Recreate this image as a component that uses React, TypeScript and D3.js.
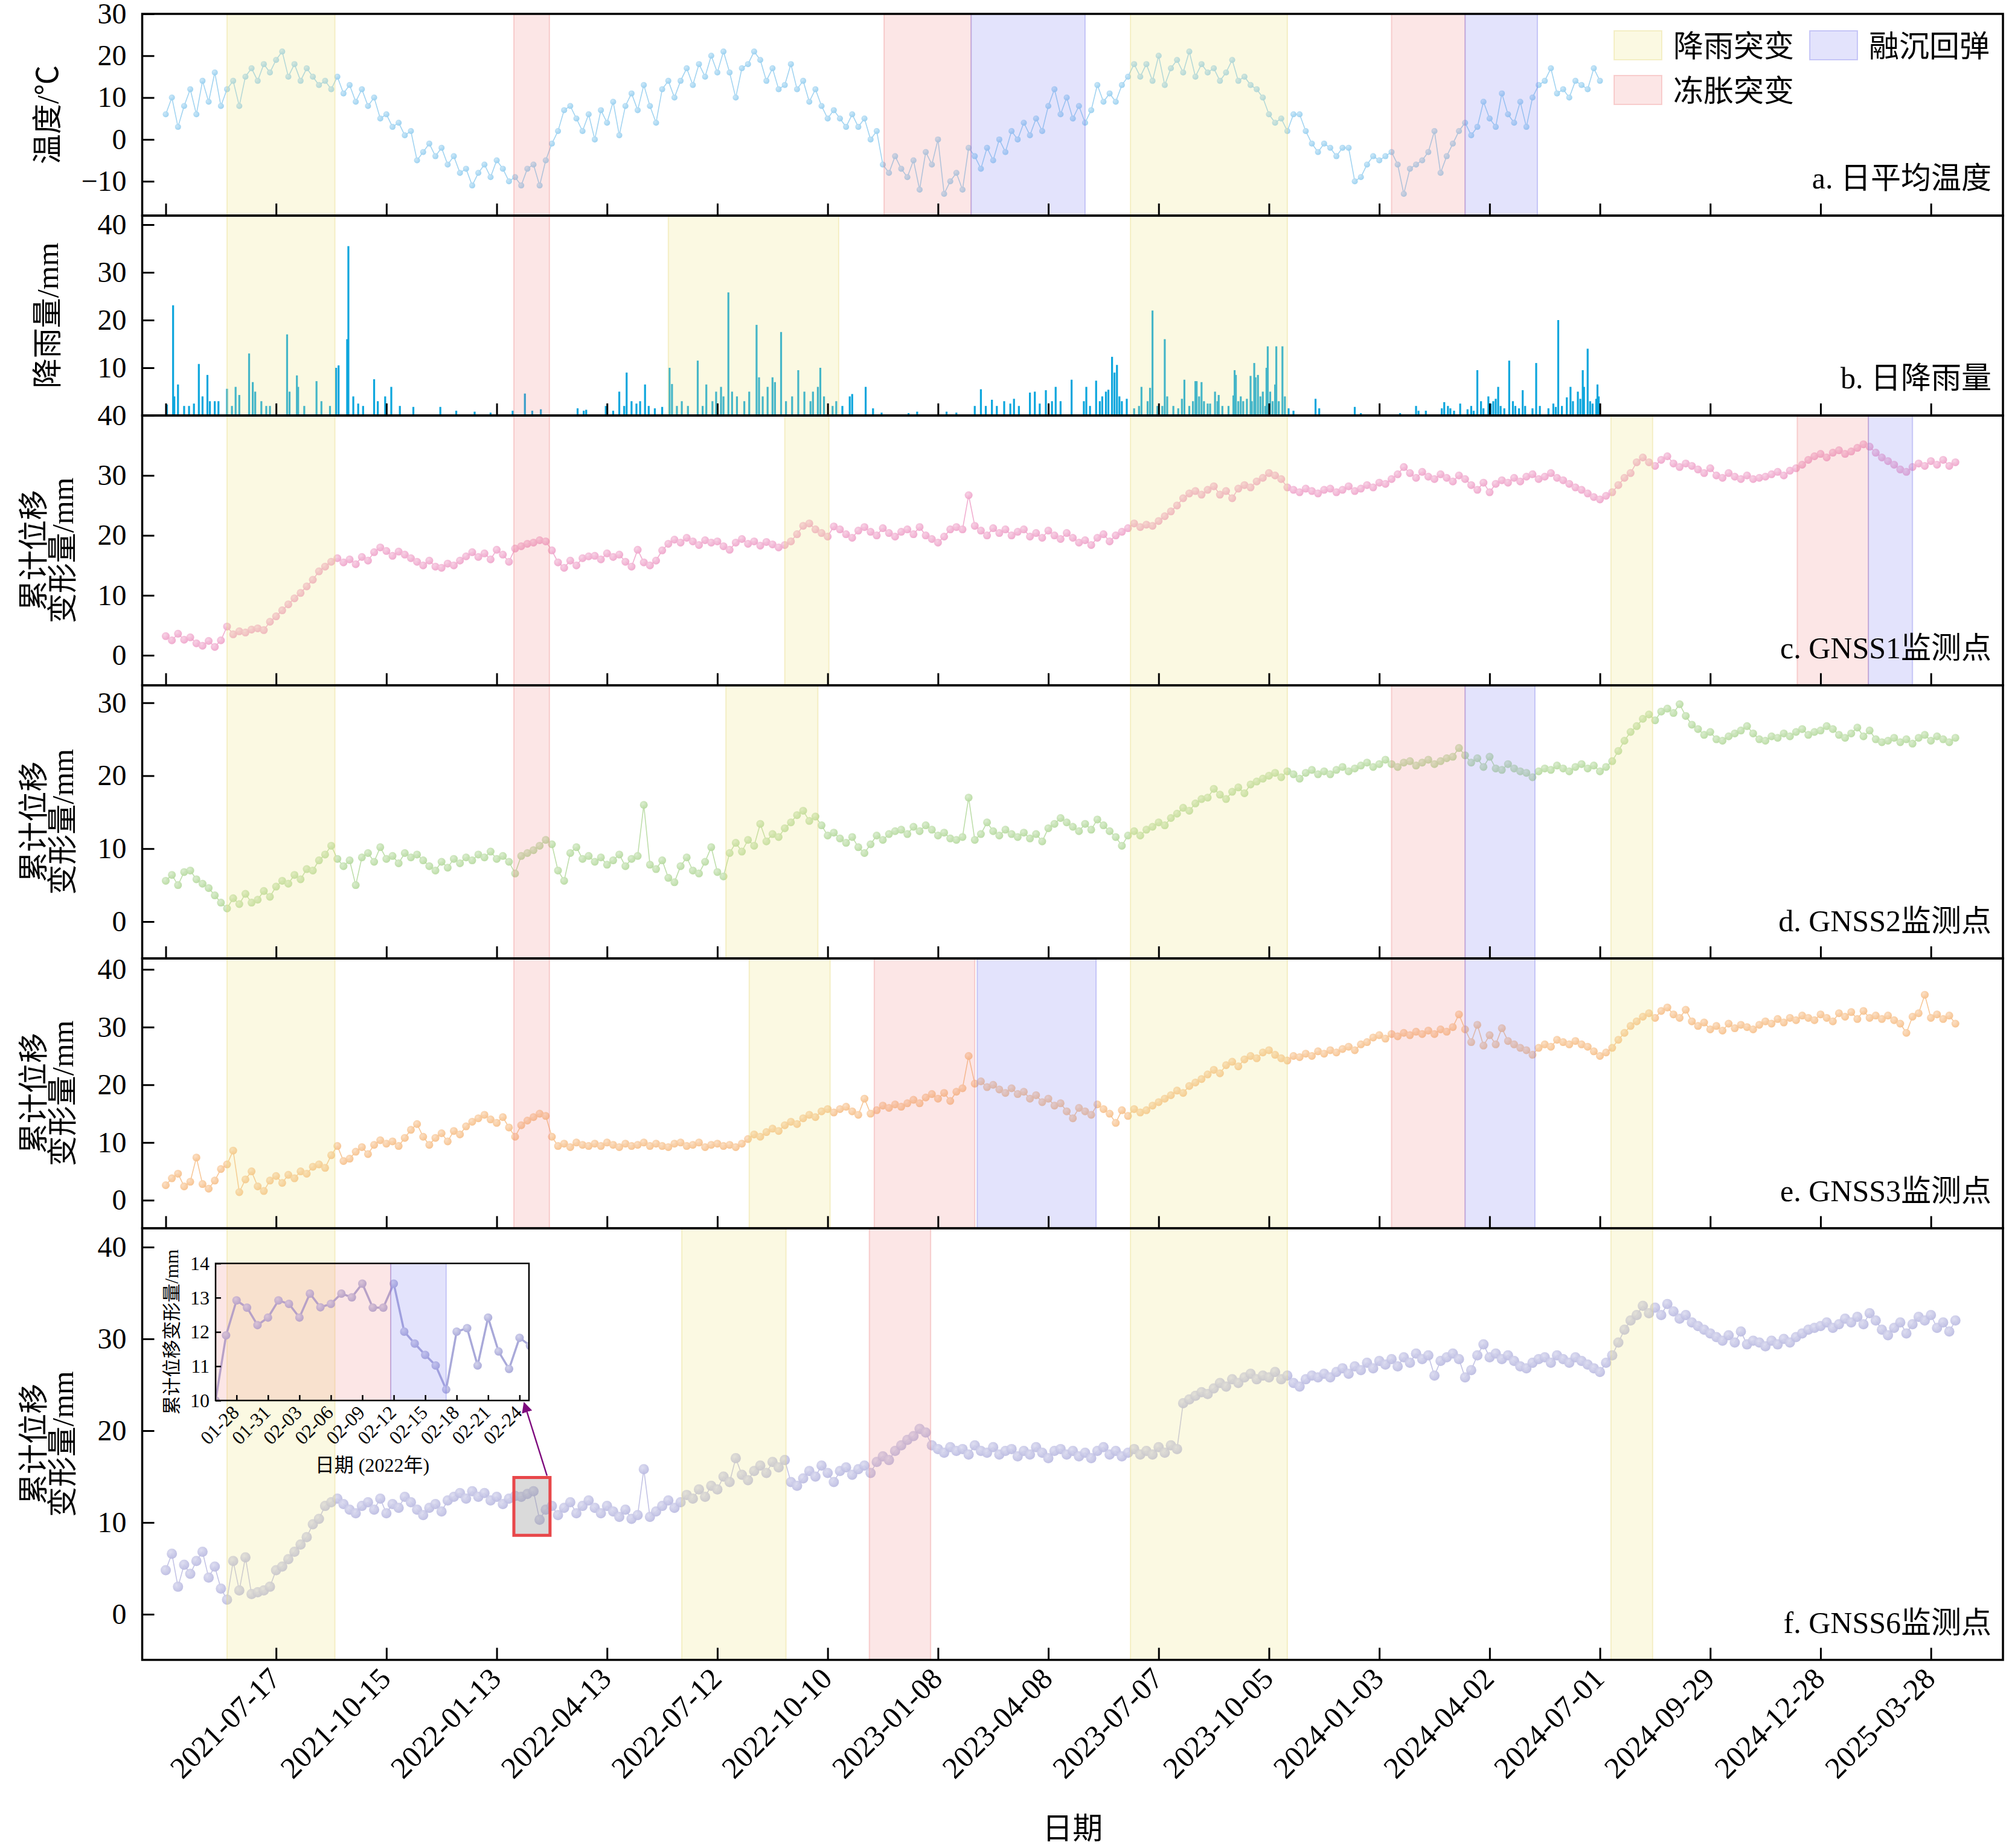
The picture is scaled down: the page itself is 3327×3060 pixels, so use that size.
import React, { useEffect, useRef } from 'react';
import * as d3 from 'd3';

// all daily series are sampled every STEP days starting at START
const START = '2021-04-18';
const STEP = 5;

const tempValues = [
  6, 10, 3, 8, 12, 6, 14, 9, 16, 8,
  12, 14, 8, 15, 17, 14, 18, 16, 19, 21,
  15, 18, 14, 17, 15, 13, 14, 12, 15, 11,
  13, 9, 12, 8, 10, 5, 6, 3, 4, 1,
  2, -5, -3, -1, -4, -2, -6, -4, -8, -7,
  -11, -8, -6, -9, -5, -7, -10, -9, -11, -7,
  -6, -11, -5, -1, 2, 7, 8, 5, 2, 6,
  0, 7, 4, 9, 1, 8, 11, 7, 13, 8,
  4, 12, 14, 10, 14, 17, 13, 18, 15, 20,
  16, 21, 16, 10, 17, 18, 21, 19, 14, 17,
  12, 13, 18, 12, 14, 9, 12, 8, 5, 7,
  5, 3, 6, 3, 5, 0, 2, -6, -8, -4,
  -7, -9, -5, -12, -3, -6, 0, -13, -10, -8,
  -12, -2, -4, -7, -2, -5, 0, -3, 2, 0,
  4, 1, 5, 2, 8, 12, 6, 10, 5, 8,
  4, 7, 13, 9, 11, 9, 13, 15, 18, 15,
  18, 14, 20, 13, 17, 19, 16, 21, 15, 18,
  16, 17, 14, 16, 19, 14, 15, 13, 12, 10,
  6, 4, 5, 2, 6, 6, 2, -1, -3, -1,
  -2, -4, -2, -2, -10, -9, -6, -4, -5, -4,
  -3, -6, -13, -7, -6, -5, -3, 2, -8, -4,
  -1, 2, 4, 1, 3, 9, 5, 3, 11, 6,
  4, 9, 3, 10, 13, 14, 17, 11, 12, 10,
  14, 13, 12, 17, 14,
];

// rain: day offset from START, mm
const rainDays = [
  1, 6, 7, 10, 15, 19, 23, 27, 30, 34, 36, 40, 43, 50, 54, 57, 60, 68, 71, 73, 78, 82, 85, 99, 101, 107, 108, 113,
  123, 127, 134, 139, 141, 148, 149, 153, 157, 161, 170, 173, 179, 184, 191, 202, 224, 237, 252, 265, 283, 293, 299,
  306, 336, 341, 343, 359, 365, 370, 374, 376, 380, 384, 387, 391, 394, 399, 405, 411, 413, 417, 421, 426, 434, 438,
  441, 446, 449, 453, 455, 459, 462, 466, 472, 476, 482, 484, 487, 491, 495, 497, 502, 506, 511, 516, 521, 526, 528,
  532, 534, 537, 544, 547, 552, 558, 560, 571, 577, 584, 606, 613, 637, 645, 660, 665, 669, 674, 678, 684, 689, 692,
  696, 705, 709, 713, 718, 723, 726, 730, 739, 749, 751, 754, 759, 762, 764, 767, 769, 772, 774, 776, 778, 780, 784,
  790, 794, 796, 801, 803, 805, 809, 813, 815, 817, 822, 826, 829, 831, 835, 838, 840, 841, 843, 845, 847, 850, 852,
  856, 858, 859, 862, 867, 871, 872, 873, 875, 877, 879, 882, 885, 886, 888, 889, 891, 893, 895, 897, 898, 899, 901,
  903, 905, 906, 908, 911, 913, 916, 920, 938, 941, 970, 975, 1007, 1020, 1022, 1028, 1041, 1043, 1046, 1048, 1051,
  1056, 1062, 1065, 1067, 1070, 1073, 1075, 1079, 1081, 1083, 1085, 1087, 1089, 1092, 1096, 1099, 1101, 1104, 1107,
  1109, 1115, 1118, 1121, 1128, 1132, 1134, 1136, 1139, 1143, 1146, 1148, 1152, 1154, 1156, 1157, 1160, 1162, 1164,
  1167, 1168, 1169,
];
const rainValues = [
  2.3, 23.1, 4, 6.5, 2, 2, 2.5, 10.8, 4, 8.5, 3, 3, 3, 5.6, 2, 6, 4.3, 13, 7, 5, 3, 2, 2, 17, 5, 8.4, 6, 2,
  7.2, 3, 2, 10, 10.5, 16, 35.5, 4, 2.5, 2, 7.6, 3, 4, 6, 2, 1.8, 1.8, 1, 0.8, 0.6, 1, 4.6, 1,
  1.3, 1.5, 1, 1.2, 2, 1, 5, 2, 9, 3, 2.5, 3, 6.5, 2, 1.5, 1.8, 10, 6.6, 2, 3, 2, 11.5, 2,
  6.5, 3, 5, 6, 4, 25.8, 5, 4, 3, 5, 19, 8, 4, 6, 8, 7, 17.5, 3, 4, 9.5, 5, 3, 5,
  6, 10, 4, 2, 3, 2, 4, 4.5, 6, 1.5, 0.6, 0.5, 0.8, 0.8, 0.6, 2, 5.5, 2, 3.3, 2, 3, 2.5, 3.5,
  2, 4.8, 5, 2.5, 5.3, 3, 6, 3, 7.5, 3, 6, 2, 7.3, 3, 4, 5, 5.4, 12.3, 9, 10.6, 4, 3, 3.5,
  1.5, 2, 6, 3, 5.8, 22, 2, 2, 16, 4, 2, 1.5, 3.5, 7.5, 2, 3, 7.2, 7.2, 4, 7, 3, 2.5, 2.5,
  5, 3, 4.3, 2, 2, 4.2, 9.5, 8.5, 3, 4, 3, 3.5, 8.3, 3, 11, 8, 8.5, 4, 5, 2, 10, 14.5, 5,
  3, 6.5, 14.5, 3, 14.5, 4, 1.5, 1, 3.5, 1.5, 1.8, 0.5, 0.5, 2, 1, 1, 1.5, 2.8, 2, 1.5, 1,
  2.5, 1.3, 2, 1, 9.5, 3, 1.5, 4, 2.5, 3, 3.5, 6, 2, 1.5, 11.5, 3, 2, 1.5, 5.3,
  2, 1.5, 11, 2, 1.5, 2.5, 1.8, 20, 2, 3.8, 6, 3, 5, 3.5, 9.5, 6, 14, 3, 2.5,
  3.5, 6.5, 4,
];

const gnss1 = [
  3.2, 2.5, 3.6, 2.6, 3.0, 2.0, 1.6, 2.4, 1.4, 2.5,
  4.8, 3.5, 4.0, 3.8, 4.3, 4.5, 4.2, 5.6, 6.5, 7.5,
  8.5, 9.5, 10.4, 11.5, 12.6, 14.0, 14.8, 15.6, 16.2, 15.5,
  16.0, 15.2, 16.4, 15.8, 17.2, 18.0, 17.4, 16.6, 17.3, 16.8,
  16.2, 15.6, 15.0, 15.8, 14.8, 14.6, 15.3, 15.0, 15.8, 16.5,
  17.2, 16.4, 17.0, 16.0, 17.6, 16.8, 15.6, 17.8, 18.2, 18.6,
  18.8, 19.2, 19.0, 17.5, 15.5, 14.6, 15.8, 15.0, 16.2, 16.5,
  16.6, 16.0, 17.0, 16.4, 16.8, 15.6, 14.8, 17.6, 15.5, 15.0,
  15.8, 17.5, 18.6, 19.3, 18.8, 19.6, 19.0, 18.4, 19.2, 18.8,
  19.0, 18.2, 17.6, 18.8, 19.4, 18.6, 19.0, 18.3, 18.9, 18.5,
  18.0, 18.4, 19.0, 20.2, 21.6, 22.0, 21.0, 20.4, 19.8, 21.5,
  21.0, 20.2, 19.6, 20.8, 21.4, 20.6, 20.0, 21.2, 20.4, 19.8,
  20.6, 21.0, 20.2, 21.4, 20.0, 19.4, 18.8, 19.8, 21.0, 21.4,
  21.0, 26.7, 21.6, 20.8, 20.0, 21.2, 20.4, 21.0, 20.0, 20.6,
  21.0, 19.8, 20.4, 19.6, 20.8, 20.0, 19.4, 20.4, 19.6, 18.8,
  19.2, 18.4, 19.6, 20.2, 19.0, 20.0, 20.6, 21.2, 22.0, 21.4,
  21.8, 21.6, 22.4, 23.2, 24.0, 25.0, 26.2, 27.0, 27.4, 26.8,
  27.6, 28.2, 26.8, 27.4, 26.2, 27.8, 28.4, 28.0, 29.0, 29.6,
  30.4, 30.0, 29.4, 28.0, 27.6, 27.2, 27.8, 27.4, 27.0, 27.6,
  27.8, 27.2, 27.6, 28.2, 27.4, 27.8, 28.4, 28.0, 28.8, 28.6,
  29.4, 30.2, 31.4, 30.4, 29.6, 30.6, 29.8, 29.4, 30.2, 29.6,
  29.0, 30.0, 29.4, 28.4, 27.6, 28.8, 27.2, 28.6, 29.2, 28.8,
  29.6, 29.0, 29.8, 30.2, 29.4, 29.8, 30.4, 29.6, 29.2, 28.6,
  28.0, 27.6, 27.0, 26.4, 26.0, 26.6, 27.2, 28.4, 29.6, 30.4,
  32.2, 33.0, 32.2, 31.6, 32.6, 33.2, 32.0, 31.4, 32.0, 31.6,
  31.0, 30.4, 31.2, 30.0, 29.6, 30.4, 29.8, 29.4, 30.0, 29.4,
  29.6, 29.8, 30.2, 30.6, 30.0, 30.8, 31.2, 31.8, 32.6, 33.2,
  33.6, 33.0, 33.8, 34.2, 33.6, 34.0, 34.6, 35.2, 34.8, 33.8,
  33.0, 32.4, 31.8, 31.0, 30.6, 31.4, 32.0, 31.6, 32.4, 31.8, 32.6, 31.6, 32.2,
];

const gnss2 = [
  5.6, 6.4, 5.0, 6.8, 7.0, 5.8, 5.2, 4.6, 3.6, 2.6,
  1.8, 3.2, 2.4, 3.8, 2.6, 3.0, 4.2, 3.4, 4.8, 5.6,
  5.2, 6.4, 5.8, 7.2, 7.0, 8.4, 9.2, 10.4, 8.6, 7.6,
  8.4, 5.0, 8.8, 9.4, 8.2, 10.2, 8.6, 9.0, 8.0, 9.4,
  8.8, 9.2, 8.4, 7.6, 7.0, 8.2, 7.4, 8.6, 8.0, 8.8,
  8.4, 9.2, 8.8, 9.6, 8.6, 9.0, 8.2, 6.6, 9.0, 9.4,
  9.8, 10.4, 11.2, 10.6, 7.0, 5.6, 9.4, 10.2, 8.6, 9.0,
  8.2, 8.8, 7.8, 8.4, 9.2, 7.6, 8.6, 9.0, 16.0, 7.8,
  7.2, 8.4, 6.0, 5.4, 7.6, 8.8, 7.0, 6.6, 8.2, 10.2,
  6.8, 6.2, 9.4, 10.8, 9.6, 11.2, 10.4, 13.4, 11.0, 12.0,
  11.6, 12.8, 13.6, 14.6, 15.2, 13.8, 14.4, 13.2, 11.8, 12.2,
  11.4, 10.8, 11.6, 10.2, 9.4, 10.6, 11.8, 11.2, 12.0, 12.4,
  12.6, 12.0, 13.0, 12.4, 13.2, 12.6, 11.8, 12.2, 11.4, 11.2,
  11.6, 17.0, 11.2, 12.0, 13.6, 12.4, 11.8, 12.6, 12.0, 11.6,
  12.2, 11.4, 12.0, 11.0, 12.8, 13.4, 14.2, 13.6, 13.0, 12.4,
  13.4, 12.6, 14.0, 13.2, 12.4, 11.6, 10.4, 11.8, 12.4, 11.8,
  12.6, 13.0, 13.6, 13.2, 14.2, 14.8, 15.6, 15.2, 16.2, 16.8,
  17.0, 18.2, 17.4, 16.8, 17.8, 18.4, 17.6, 18.8, 19.2, 19.6,
  20.0, 20.4, 19.8, 20.6, 20.2, 19.6, 20.4, 20.8, 20.2, 20.6,
  20.2, 20.8, 21.2, 20.6, 21.0, 21.4, 21.8, 21.2, 21.6, 22.2,
  21.6, 21.2, 21.8, 22.0, 21.4, 21.8, 22.2, 21.6, 22.0, 22.4,
  22.6, 23.8, 22.8, 21.8, 22.4, 21.2, 22.6, 21.0, 20.8, 21.6,
  21.0, 20.6, 20.4, 19.8, 20.6, 21.0, 20.8, 21.4, 21.0, 20.6,
  21.2, 21.6, 21.0, 21.4, 20.6, 21.2, 22.0, 23.4, 24.8, 26.0,
  26.8, 27.8, 28.4, 27.6, 28.8, 29.2, 28.6, 29.8, 28.2, 27.0,
  26.4, 25.6, 26.0, 25.0, 24.8, 25.4, 25.8, 26.2, 26.8, 25.8,
  25.0, 24.8, 25.4, 25.2, 25.8, 25.4, 26.0, 26.4, 25.6, 26.0,
  26.2, 26.8, 26.4, 25.6, 25.2, 25.8, 26.6, 25.4, 26.2, 25.0,
  24.6, 24.8, 25.2, 24.6, 25.0, 24.4, 25.2, 25.6, 24.8, 25.4, 25.0, 24.6, 25.2,
];

const gnss3 = [
  2.6, 3.8, 4.6, 2.4, 3.2, 7.4, 2.8, 2.0, 3.4, 5.4,
  6.2, 8.6, 1.4, 3.6, 5.0, 2.4, 1.6, 3.4, 4.2, 3.0,
  4.4, 3.8, 5.0, 4.6, 5.8, 6.2, 5.6, 7.8, 9.4, 6.8,
  7.2, 8.4, 9.2, 8.0, 9.6, 10.4, 9.8, 10.2, 9.4, 10.8,
  12.2, 13.2, 11.0, 9.6, 10.8, 11.6, 10.2, 12.0, 11.4, 12.8,
  13.6, 14.2, 14.8, 14.0, 13.4, 14.4, 12.6, 11.0, 13.0, 13.8,
  14.4, 15.0, 14.6, 11.0, 9.4, 9.8, 9.2, 10.0, 9.6, 9.4,
  9.8, 9.4, 10.0, 9.6, 9.2, 9.8, 9.4, 9.6, 10.0, 9.4,
  9.8, 9.4, 9.2, 9.8, 10.0, 9.4, 9.6, 10.0, 9.2, 9.6,
  9.8, 9.4, 9.6, 9.2, 9.8, 10.6, 11.4, 11.0, 11.8, 12.4,
  12.0, 13.0, 13.6, 13.2, 14.2, 14.8, 14.4, 15.4, 15.8, 15.2,
  15.8, 16.2, 15.4, 14.8, 17.6, 15.0, 15.6, 16.4, 16.0, 16.6,
  16.2, 16.8, 17.4, 16.8, 17.8, 18.4, 17.6, 18.6, 17.2, 18.8,
  19.4, 25.0, 20.2, 20.6, 19.6, 20.0, 19.2, 18.6, 19.4, 18.4,
  18.8, 17.6, 18.2, 17.0, 17.6, 16.4, 16.8, 15.4, 14.2, 16.0,
  15.4, 14.8, 16.6, 15.8, 15.0, 13.4, 15.6, 14.6, 15.8, 15.2,
  15.6, 16.4, 17.0, 17.6, 18.2, 19.0, 18.6, 19.8, 20.4, 21.0,
  21.8, 22.6, 22.0, 23.4, 24.0, 23.2, 24.4, 25.0, 24.6, 25.6,
  26.0, 25.2, 24.6, 24.2, 25.0, 24.8, 25.4, 25.0, 25.8, 25.4,
  26.0, 25.6, 26.2, 26.6, 26.0, 27.0, 27.4, 28.2, 28.6, 28.0,
  28.8, 28.4, 29.0, 28.6, 29.2, 28.8, 29.4, 28.8, 29.6, 29.2,
  30.0, 32.2, 29.6, 27.4, 30.4, 26.8, 28.6, 27.0, 29.8, 27.6,
  27.0, 26.4, 26.0, 25.2, 26.4, 27.0, 26.6, 27.8, 27.4, 27.0,
  27.6, 27.0, 26.6, 25.8, 25.0, 25.6, 26.4, 27.8, 29.0, 30.2,
  31.0, 31.8, 32.4, 31.6, 32.8, 33.4, 32.2, 31.6, 33.0, 31.0,
  30.2, 30.8, 29.6, 30.2, 29.4, 30.6, 29.8, 30.4, 30.0, 29.6,
  30.4, 31.0, 30.6, 31.4, 30.8, 31.6, 31.2, 32.0, 31.6, 31.2,
  32.2, 31.6, 31.0, 32.4, 31.8, 32.6, 31.4, 32.8, 31.6, 32.0,
  31.4, 32.0, 31.2, 30.6, 29.0, 31.8, 32.4, 35.6, 31.6, 32.2, 31.4, 32.0, 30.6,
];

const gnss6 = [
  4.8, 6.6, 3.0, 5.4, 4.4, 5.8, 6.8, 4.0, 5.2, 2.8,
  1.6, 5.8, 2.6, 6.2, 2.2, 2.4, 2.6, 3.0, 4.8, 5.2,
  6.0, 6.8, 7.6, 8.4, 9.8, 10.4, 11.8, 12.2, 12.6, 12.0,
  11.4, 11.0, 11.8, 12.2, 11.4, 12.6, 11.0, 12.0, 11.6, 12.8,
  12.2, 11.4, 10.8, 11.6, 12.0, 11.2, 12.4, 12.8, 13.2, 12.6,
  13.4, 12.8, 13.2, 12.4, 12.8, 12.0, 12.6, 12.9, 12.8, 13.1,
  13.4, 10.3, 11.4, 11.8, 10.8, 11.6, 12.2, 11.0, 11.8, 12.4,
  11.6, 11.0, 11.8, 11.2, 10.6, 11.4, 10.4, 10.8, 15.8, 10.6,
  11.2, 11.8, 12.4, 11.6, 12.2, 13.0, 12.6, 13.6, 12.8, 14.0,
  13.6, 15.0, 14.4, 17.0, 15.2, 14.6, 15.6, 16.2, 15.4, 16.6,
  16.0, 16.8, 14.4, 14.0, 14.8, 15.6, 15.0, 16.2, 15.4, 14.4,
  15.6, 16.0, 15.2, 15.8, 16.2, 15.4, 16.6, 17.2, 16.8, 17.8,
  18.4, 19.0, 19.4, 20.2, 19.8, 18.4, 18.0, 17.6, 18.2, 17.8,
  18.0, 17.4, 18.4, 17.8, 17.6, 18.2, 17.4, 17.8, 18.0, 17.2,
  17.8, 17.4, 18.2, 17.6, 17.0, 17.8, 18.0, 17.4, 17.8, 17.2,
  17.6, 17.0, 17.8, 18.2, 17.4, 17.8, 17.2, 17.6, 18.0, 17.4,
  17.8, 17.4, 18.2, 17.6, 18.4, 18.0, 23.0, 23.4, 23.8, 24.2,
  24.0, 24.6, 25.2, 24.8, 25.6, 25.2, 25.8, 26.2, 25.6, 26.0,
  25.8, 26.4, 25.6, 26.0, 25.2, 24.8, 25.6, 26.0, 25.8, 26.2,
  25.8, 26.4, 26.8, 26.2, 27.0, 26.6, 27.4, 26.8, 27.6, 27.2,
  27.8, 27.0, 28.0, 27.4, 28.4, 27.8, 28.2, 26.0, 27.6, 28.0,
  28.4, 27.8, 25.8, 26.6, 28.2, 29.4, 28.0, 28.4, 27.8, 28.2,
  27.6, 27.0, 26.8, 27.4, 27.8, 28.0, 27.4, 28.2, 27.8, 27.4,
  28.0, 27.6, 27.2, 26.8, 26.4, 27.4, 28.2, 29.6, 31.0, 32.0,
  32.6, 33.6, 32.8, 33.4, 32.6, 33.8, 33.0, 32.2, 32.6, 31.8,
  31.4, 31.0, 30.6, 30.2, 29.8, 30.4, 29.6, 30.8, 29.4, 29.8,
  29.6, 29.2, 29.8, 29.4, 30.0, 29.6, 30.2, 30.6, 31.0, 31.2,
  31.4, 31.8, 31.2, 31.6, 32.2, 31.8, 32.4, 31.6, 32.8, 32.0,
  31.0, 30.4, 31.2, 31.8, 30.6, 31.6, 32.4, 32.0, 32.6, 31.2, 31.8, 30.8, 32.0,
];

// inset: GNSS6 daily values from 2022-01-26
const insetStart = '2022-01-26';
const insetValues = [
  10.0, 11.9, 12.92, 12.71, 12.2, 12.42, 12.92, 12.82, 12.42, 13.12, 12.72, 12.82, 13.12, 13.01, 13.41, 12.71,
  12.71, 13.41, 12.01, 11.66, 11.33, 11.02, 10.32, 12.01, 12.11, 11.02, 12.42, 11.43, 10.92, 11.83, 11.6,
];
const insetTicks = ['01-28', '01-31', '02-03', '02-06', '02-09', '02-12', '02-15', '02-18', '02-21', '02-24'];

const firstTick = '2021-04-18';
const xTickLabels = [
  '2021-07-17', '2021-10-15', '2022-01-13', '2022-04-13', '2022-07-12', '2022-10-10', '2023-01-08', '2023-04-08',
  '2023-07-07', '2023-10-05', '2024-01-03', '2024-04-02', '2024-07-01', '2024-09-29', '2024-12-28', '2025-03-28',
];

// event windows: [from, to, kind]
const Y1 = ['2021-06-07', '2021-09-03', 'rain'];
const P1 = ['2022-01-27', '2022-02-25', 'frost'];
const Y23 = ['2023-06-14', '2023-10-20', 'rain'];
const Y24 = ['2024-07-10', '2024-08-13', 'rain'];
const P24 = ['2024-01-13', '2024-03-13', 'frost'];
const bandsA = [Y1, P1, ['2022-11-25', '2023-02-04', 'frost'], ['2023-02-04', '2023-05-08', 'thaw'], Y23, P24, ['2024-03-13', '2024-05-11', 'thaw']];
const bandsB = [Y1, P1, ['2022-06-02', '2022-10-19', 'rain'], Y23];
const bandsC = [Y1, P1, ['2022-09-05', '2022-10-11', 'rain'], Y23, Y24, ['2024-12-09', '2025-02-05', 'frost'], ['2025-02-05', '2025-03-13', 'thaw']];
const bandsD = [Y1, P1, ['2022-07-19', '2022-10-02', 'rain'], Y23, P24, ['2024-03-13', '2024-05-09', 'thaw'], Y24];
const bandsE = [Y1, P1, ['2022-08-07', '2022-10-12', 'rain'], ['2022-11-17', '2023-02-07', 'frost'], ['2023-02-09', '2023-05-17', 'thaw'], Y23, P24, ['2024-03-13', '2024-05-09', 'thaw'], Y24];
const bandsF = [Y1, ['2022-06-13', '2022-09-06', 'rain'], ['2022-11-13', '2023-01-02', 'frost'], Y23, Y24];

const legendItems = [
  { kind: 'rain', label: '降雨突变' },
  { kind: 'thaw', label: '融沉回弹' },
  { kind: 'frost', label: '冻胀突变' },
];

const W = 3327;
const H = 3060;
const FONT = "'Liberation Serif', 'Times New Roman', 'Noto Sans CJK SC', serif";
const bandFill = { rain: 'rgba(240,230,140,0.25)', frost: 'rgba(240,128,128,0.2)', thaw: 'rgba(128,128,240,0.22)' };
const bandStroke = { rain: 'rgba(230,215,120,0.35)', frost: 'rgba(235,120,120,0.3)', thaw: 'rgba(120,120,235,0.35)' };

const App = () => {
  const svgRef = useRef(null);

  useEffect(() => {
    const parse = d3.utcParse('%Y-%m-%d');
    const t0 = parse(START);
    const at = (d) => new Date(+t0 + d * 864e5);
    const toSeries = (vals) => vals.map((v, i) => ({ date: at(i * STEP), value: v }));

    const left = 235.5;
    const right = 3317;
    const x = d3.scaleUtc().domain([at(-19.2), at(1498.8)]).range([left, right]);

    const svg = d3.select(svgRef.current);
    svg.selectAll('*').remove();
    svg.append('rect').attr('width', W).attr('height', H).attr('fill', '#fff');
    const defs = svg.append('defs');

    const ball = (id, c) => {
      const gr = defs.append('radialGradient').attr('id', id).attr('cx', '38%').attr('cy', '35%').attr('r', '70%');
      gr.append('stop').attr('offset', '0%').attr('stop-color', d3.interpolateRgb(c, '#fff')(0.5));
      gr.append('stop').attr('offset', '100%').attr('stop-color', c);
    };

    const panels = [
      { top: 23, bottom: 357, domain: [-18.2, 30], ticks: [-10, 0, 10, 20, 30], title: ['温度/℃'], label: 'a. 日平均温度', bands: bandsA, kind: 'temp', data: tempValues, color: '#92cdef', r: 5 },
      { top: 357, bottom: 688, domain: [0, 41.9], ticks: [10, 20, 30, 40], title: ['降雨量/mm'], label: 'b. 日降雨量', bands: bandsB, kind: 'rain', color: '#0da6dd' },
      { top: 688, bottom: 1134.7, domain: [-5, 40], ticks: [0, 10, 20, 30, 40], title: ['累计位移', '变形量/mm'], label: 'c. GNSS1监测点', bands: bandsC, kind: 'gnss', data: gnss1, color: '#eea0c8', r: 6.5 },
      { top: 1134.7, bottom: 1587, domain: [-5.05, 32.4], ticks: [0, 10, 20, 30], title: ['累计位移', '变形量/mm'], label: 'd. GNSS2监测点', bands: bandsD, kind: 'gnss', data: gnss2, color: '#b3d89b', r: 6.5 },
      { top: 1587, bottom: 2033.7, domain: [-4.85, 41.9], ticks: [0, 10, 20, 30, 40], title: ['累计位移', '变形量/mm'], label: 'e. GNSS3监测点', bands: bandsE, kind: 'gnss', data: gnss3, color: '#f6bd85', r: 6.5 },
      { top: 2033.7, bottom: 2748.5, domain: [-4.97, 42.06], ticks: [0, 10, 20, 30, 40], title: ['累计位移', '变形量/mm'], label: 'f. GNSS6监测点', bands: bandsF, kind: 'gnss', data: gnss6, color: '#b8b8e0', r: 8.5 },
    ];

    const tickDates = [firstTick, ...xTickLabels].map(parse);
    let yF = null;

    panels.forEach((p, pi) => {
      const y = d3.scaleLinear().domain(p.domain).range([p.bottom, p.top]);
      if (pi === 5) yF = y;
      const clipId = `clip-${pi}`;
      defs.append('clipPath').attr('id', clipId).append('rect')
        .attr('x', left).attr('y', p.top).attr('width', right - left).attr('height', p.bottom - p.top);
      const g = svg.append('g');
      const plot = g.append('g').attr('clip-path', `url(#${clipId})`);

      if (p.kind === 'rain') {
        plot.selectAll('rect.rain').data(rainDays.map((d, i) => ({ date: at(d), value: rainValues[i] })))
          .join('rect')
          .attr('x', (d) => x(d.date) - 1.6)
          .attr('width', 3.2)
          .attr('y', (d) => y(d.value))
          .attr('height', (d) => y(0) - y(d.value))
          .attr('fill', p.color);
      } else {
        const data = toSeries(p.data);
        const gradId = `ball-${pi}`;
        ball(gradId, p.color);
        plot.append('path').datum(data)
          .attr('d', d3.line().x((d) => x(d.date)).y((d) => y(d.value)))
          .attr('fill', 'none').attr('stroke', p.color).attr('stroke-width', 1.6).attr('opacity', 0.85);
        plot.append('g').selectAll('circle').data(data).join('circle')
          .attr('cx', (d) => x(d.date)).attr('cy', (d) => y(d.value)).attr('r', p.r)
          .attr('fill', `url(#${gradId})`).attr('opacity', 0.92);
      }

      // event windows lie over the data
      plot.selectAll('rect.band').data(p.bands).join('rect')
        .attr('x', (d) => x(parse(d[0])))
        .attr('width', (d) => x(parse(d[1])) - x(parse(d[0])))
        .attr('y', p.top).attr('height', p.bottom - p.top)
        .attr('fill', (d) => bandFill[d[2]]).attr('stroke', (d) => bandStroke[d[2]]).attr('stroke-width', 2);

      // x ticks (inward)
      const xa = g.append('g').attr('transform', `translate(0,${p.bottom})`)
        .call(d3.axisBottom(x).tickValues(pi === 5 ? tickDates.slice(1) : tickDates).tickSizeInner(-20).tickSizeOuter(0).tickFormat(() => ''));
      xa.select('.domain').remove();
      xa.selectAll('line').attr('stroke', '#000').attr('stroke-width', 3);

      // y axis (inward ticks)
      const ya = g.append('g').attr('transform', `translate(${left},0)`)
        .call(d3.axisLeft(y).tickValues(p.ticks).tickSizeInner(-20).tickSizeOuter(0).tickPadding(26));
      ya.select('.domain').remove();
      ya.selectAll('line').attr('stroke', '#000').attr('stroke-width', 3);
      ya.attr('font-size', 48).attr('font-family', FONT);
      ya.selectAll('text').attr('fill', '#000');

      // axis title
      const cy = (p.top + p.bottom) / 2;
      const xs = p.title.length === 1 ? [79] : [56, 104];
      p.title.forEach((t, i) => {
        g.append('text').attr('transform', `translate(${xs[i]},${cy}) rotate(-90)`)
          .attr('text-anchor', 'middle').attr('dominant-baseline', 'central')
          .attr('font-size', 50).attr('font-family', FONT).text(t);
      });

      // panel label
      g.append('text').attr('x', 3298).attr('y', p.bottom - 45).attr('text-anchor', 'end')
        .attr('font-size', 50).attr('font-family', FONT).text(p.label);
    });

    // legend in panel a
    const legPos = [[2673, 51], [2997, 51], [2673, 125]];
    legendItems.forEach((it, i) => {
      const [lx, ly] = legPos[i];
      svg.append('rect').attr('x', lx).attr('y', ly).attr('width', 79).attr('height', 48)
        .attr('fill', bandFill[it.kind]).attr('stroke', bandStroke[it.kind]).attr('stroke-width', 2);
      svg.append('text').attr('x', lx + 98).attr('y', ly + 26).attr('dominant-baseline', 'central')
        .attr('font-size', 50).attr('font-family', FONT).text(it.label);
    });

    // zoom window in panel f
    const boxX0 = x(at(284));
    const boxX1 = x(at(313.5));
    const boxY0 = yF(14.9);
    const boxY1 = yF(8.6);
    svg.append('rect').attr('x', boxX0).attr('y', boxY0).attr('width', boxX1 - boxX0).attr('height', boxY1 - boxY0)
      .attr('fill', 'rgba(150,150,150,0.35)').attr('stroke', '#e8474a').attr('stroke-width', 5);

    // inset
    const iL = 357, iR = 876, iT = 2092, iB = 2319;
    const i0 = parse(insetStart);
    const ix = d3.scaleUtc().domain([i0, new Date(+i0 + 29.9 * 864e5)]).range([iL, iR]);
    const iy = d3.scaleLinear().domain([10, 14]).range([iB, iT]);
    const inset = svg.append('g');
    defs.append('clipPath').attr('id', 'clip-inset').append('rect')
      .attr('x', iL).attr('y', iT - 10).attr('width', iR - iL).attr('height', iB - iT + 10);
    const iplot = inset.append('g').attr('clip-path', 'url(#clip-inset)');
    const idata = insetValues.map((v, i) => ({ date: new Date(+i0 + i * 864e5), value: v }));
    ball('ball-inset', '#a9a9d9');
    iplot.append('path').datum(idata)
      .attr('d', d3.line().x((d) => ix(d.date)).y((d) => iy(d.value)))
      .attr('fill', 'none').attr('stroke', '#a9a9d9').attr('stroke-width', 3.5);
    iplot.selectAll('circle').data(idata).join('circle')
      .attr('cx', (d) => ix(d.date)).attr('cy', (d) => iy(d.value)).attr('r', 7)
      .attr('fill', 'url(#ball-inset)');
    const insetBands = [
      [i0, new Date(Date.UTC(2022, 1, 11, 17)), 'frost'],
      [new Date(Date.UTC(2022, 1, 11, 17)), new Date(Date.UTC(2022, 1, 17)), 'thaw'],
    ];
    iplot.selectAll('rect.band').data(insetBands).join('rect')
      .attr('x', (d) => ix(d[0])).attr('width', (d) => ix(d[1]) - ix(d[0]))
      .attr('y', iT).attr('height', iB - iT)
      .attr('fill', (d) => bandFill[d[2]]).attr('stroke', (d) => bandStroke[d[2]]).attr('stroke-width', 2);

    const iTickDates = insetTicks.map((t) => parse(`2022-${t}`));
    const ixa = inset.append('g').attr('transform', `translate(0,${iB})`)
      .call(d3.axisBottom(ix).tickValues(iTickDates).tickSizeInner(-9).tickSizeOuter(0).tickFormat(() => ''));
    ixa.select('.domain').remove();
    ixa.selectAll('line').attr('stroke', '#000').attr('stroke-width', 2.5);
    const iya = inset.append('g').attr('transform', `translate(${iL},0)`)
      .call(d3.axisLeft(iy).tickValues([10, 11, 12, 13, 14]).tickFormat(d3.format('d')).tickSizeInner(-9).tickSizeOuter(0).tickPadding(10));
    iya.select('.domain').remove();
    iya.selectAll('line').attr('stroke', '#000').attr('stroke-width', 2.5);
    iya.attr('font-size', 32).attr('font-family', FONT);
    iya.selectAll('text').attr('fill', '#000');
    inset.selectAll('text.ixl').data(iTickDates).join('text')
      .attr('transform', (d) => `translate(${ix(d) + 6},${iB + 22}) rotate(-45)`)
      .attr('text-anchor', 'end').attr('font-size', 32).attr('font-family', FONT)
      .text((d, i) => insetTicks[i]);
    inset.append('rect').attr('x', iL).attr('y', iT).attr('width', iR - iL).attr('height', iB - iT)
      .attr('fill', 'none').attr('stroke', '#000').attr('stroke-width', 2.5);
    inset.append('text').attr('transform', `translate(284,${(iT + iB) / 2}) rotate(-90)`)
      .attr('text-anchor', 'middle').attr('dominant-baseline', 'central')
      .attr('font-size', 31).attr('font-family', FONT).text('累计位移变形量/mm');
    inset.append('text').attr('x', (iL + iR) / 2).attr('y', 2437).attr('text-anchor', 'middle')
      .attr('font-size', 32).attr('font-family', FONT).text('日期 (2022年)');

    // arrow from zoom window to inset
    defs.append('marker').attr('id', 'arrow').attr('viewBox', '0 0 10 10').attr('refX', 9).attr('refY', 5)
      .attr('markerWidth', 7).attr('markerHeight', 7).attr('orient', 'auto-start-reverse')
      .append('path').attr('d', 'M0,0 L10,5 L0,10 z').attr('fill', '#7d0a7d');
    svg.append('line').attr('x1', boxX1 - 5).attr('y1', boxY0 - 3).attr('x2', iR - 8).attr('y2', iB + 4)
      .attr('stroke', '#7d0a7d').attr('stroke-width', 2.5).attr('marker-end', 'url(#arrow)');

    // panel frames on top
    panels.forEach((p) => {
      svg.append('rect').attr('x', left).attr('y', p.top).attr('width', right - left).attr('height', p.bottom - p.top)
        .attr('fill', 'none').attr('stroke', '#000').attr('stroke-width', 3.5);
    });

    // bottom date labels
    const bottom = panels[5].bottom;
    svg.append('g').selectAll('text').data(xTickLabels).join('text')
      .attr('transform', (d) => `translate(${x(parse(d)) + 10},${bottom + 34}) rotate(-45)`)
      .attr('text-anchor', 'end').attr('font-size', 50).attr('font-family', FONT)
      .text((d) => d);

    svg.append('text').attr('x', (left + right) / 2).attr('y', 3045).attr('text-anchor', 'middle')
      .attr('font-size', 50).attr('font-family', FONT).text('日期');
  }, []);

  return <svg ref={svgRef} width={W} height={H} style={{ position: 'absolute', left: 0, top: 0 }} />;
};

export default App;
